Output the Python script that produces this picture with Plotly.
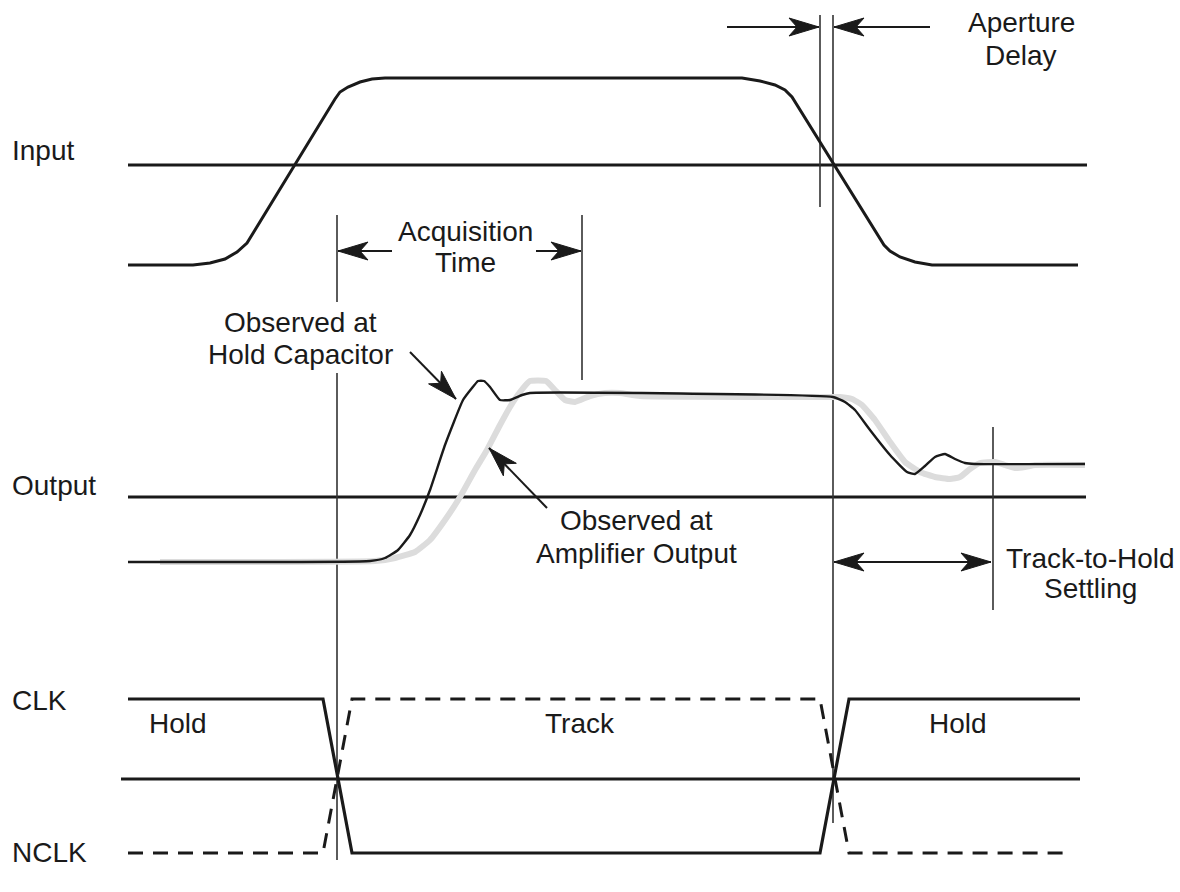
import plotly.graph_objects as go
import math

# ---------------- data (diagram units: x rightwards, y downwards) ----------------
INPUT_X = [128, 193, 210, 225, 237, 247, 335, 340, 348, 360, 372, 385, 742, 760, 775, 785, 792, 884, 890, 900, 915, 932, 1078]
INPUT_Y = [265, 265, 263, 259, 252, 243, 99, 92, 87, 82, 79, 78, 78, 81, 85, 90, 97, 245, 251, 257, 262, 265, 265]

HOLD_CAP_X = [128, 370, 385, 398, 410, 420, 430, 445, 463, 472, 478, 484, 490, 500, 510, 522, 530, 833, 845, 855, 870, 890, 907, 915, 925, 935, 945, 955, 965, 975, 1085]
HOLD_CAP_Y = [562, 561, 558, 550, 535, 515, 490, 445, 400, 388, 381, 381, 387, 400, 400, 395, 393, 397, 402, 410, 430, 455, 472, 474, 466, 457, 454, 459, 463, 464, 464]

AMP_OUT_X = [160, 375, 395, 415, 430, 445, 460, 475, 487, 500, 510, 520, 530, 546, 555, 565, 575, 590, 605, 620, 640, 800, 840, 852, 862, 875, 890, 905, 920, 935, 950, 960, 970, 980, 995, 1005, 1015, 1025, 1035, 1085]
AMP_OUT_Y = [562, 561, 558, 552, 540, 520, 497, 470, 450, 425, 407, 392, 381, 381, 390, 400, 402, 396, 393, 393, 396, 397, 397, 399, 405, 420, 442, 462, 472, 477, 479, 477, 469, 463, 462, 465, 468, 467, 465, 465]

CLK_X = [128, 323, 352, 820, 849, 1080]
CLK_Y = [699, 699, 853, 853, 699, 699]
NCLK_X = [128, 323, 352, 820, 849, 1070]
NCLK_Y = [853, 853, 699, 699, 853, 853]

# reference (threshold) lines: (x0, x1, y)
REF_LINES = [(128, 1087, 165), (128, 1086, 497), (121, 1080, 779)]

# thin vertical marker lines: (x, y0, y1)
MARKERS = [(337, 215, 302), (337, 373, 860), (582, 215, 380), (820, 15, 207), (833, 15, 823), (993, 427, 610)]

# arrows: (tail_x, tail_y, tip_x, tip_y)
ARROWS = [(727, 27, 819, 27), (930, 27, 834, 27),
          (392, 251, 338, 251), (536, 251, 581, 251),
          (410, 352, 456, 399), (547, 508, 489, 448),
          (912, 562, 834, 562), (912, 562, 991, 562)]

# labels: (x, y, text, anchor)
SIGNAL_LABELS = [(10, 150, "Input", "left"), (10, 485, "Output", "left"),
                 (10, 700, "CLK", "left"), (10, 852, "NCLK", "left")]
NOTE_LABELS = [(1021, 22, "Aperture"), (1021, 55, "Delay"),
               (465, 231, "Acquisition"), (465, 262, "Time"),
               (300, 322, "Observed at"), (300, 354, "Hold Capacitor"),
               (636, 520, "Observed at"), (636, 553, "Amplifier Output"),
               (1090, 558, "Track-to-Hold"), (1090, 588, "Settling"),
               (178, 723, "Hold"), (580, 723, "Track"), (958, 723, "Hold")]

FONT = "Liberation Sans, Arial, Helvetica, sans-serif"
INK = "#1a1a1a"
FSIZE = 28

fig = go.Figure()

def line(xs, ys, width, color=INK, shape="spline"):
    fig.add_trace(go.Scatter(x=xs, y=ys, mode="lines", hoverinfo="skip",
                             line=dict(color=color, width=width, shape=shape, smoothing=0.4)))

for x0, x1, y in REF_LINES:
    fig.add_trace(go.Scatter(x=[x0, x1], y=[y, y], mode="lines", hoverinfo="skip",
                             line=dict(color=INK, width=3.2)))

for x, y0, y1 in MARKERS:
    fig.add_trace(go.Scatter(x=[x, x], y=[y0, y1], mode="lines", hoverinfo="skip",
                             line=dict(color="#333333", width=1.6)))

line(INPUT_X, INPUT_Y, 3, shape="linear")
line(AMP_OUT_X, AMP_OUT_Y, 6, color="#dcdcdc")
line(HOLD_CAP_X, HOLD_CAP_Y, 2.4)

fig.add_trace(go.Scatter(x=CLK_X, y=CLK_Y, mode="lines", hoverinfo="skip",
                         line=dict(color=INK, width=3.2)))
fig.add_trace(go.Scatter(x=NCLK_X, y=NCLK_Y, mode="lines", hoverinfo="skip",
                         line=dict(color=INK, width=3, dash="15px,10px")))

# arrows with barbed heads
for tx, ty, hx, hy in ARROWS:
    fig.add_trace(go.Scatter(x=[tx, hx], y=[ty, hy], mode="lines", hoverinfo="skip",
                             line=dict(color=INK, width=2)))
    dx, dy = hx - tx, hy - ty
    L = math.hypot(dx, dy)
    ux, uy = dx / L, dy / L
    px, py = -uy, ux
    hl, hw, notch = 30, 9, 22
    bx, by = hx - ux * hl, hy - uy * hl
    nx, ny = hx - ux * notch, hy - uy * notch
    xs = [hx, bx + px * hw, nx, bx - px * hw, hx]
    ys = [hy, by + py * hw, ny, by - py * hw, hy]
    fig.add_trace(go.Scatter(x=xs, y=ys, mode="lines", fill="toself", fillcolor=INK,
                             hoverinfo="skip", line=dict(color=INK, width=1)))

for x, y, t, a in SIGNAL_LABELS:
    fig.add_annotation(x=x, y=y, text=t, showarrow=False, xanchor=a, yanchor="middle",
                       font=dict(family=FONT, size=FSIZE, color=INK))
for x, y, t in NOTE_LABELS:
    fig.add_annotation(x=x, y=y, text=t, showarrow=False, xanchor="center", yanchor="middle",
                       align="center", font=dict(family=FONT, size=FSIZE, color=INK))

fig.update_layout(width=1180, height=892, margin=dict(l=0, r=0, t=0, b=0),
                  paper_bgcolor="white", plot_bgcolor="white", showlegend=False)
fig.update_xaxes(range=[0, 1180], visible=False, fixedrange=True)
fig.update_yaxes(range=[892, 0], visible=False, fixedrange=True)

fig.write_html("out.html", config={"displayModeBar": False},
               post_script="document.body.style.margin='0px';")
